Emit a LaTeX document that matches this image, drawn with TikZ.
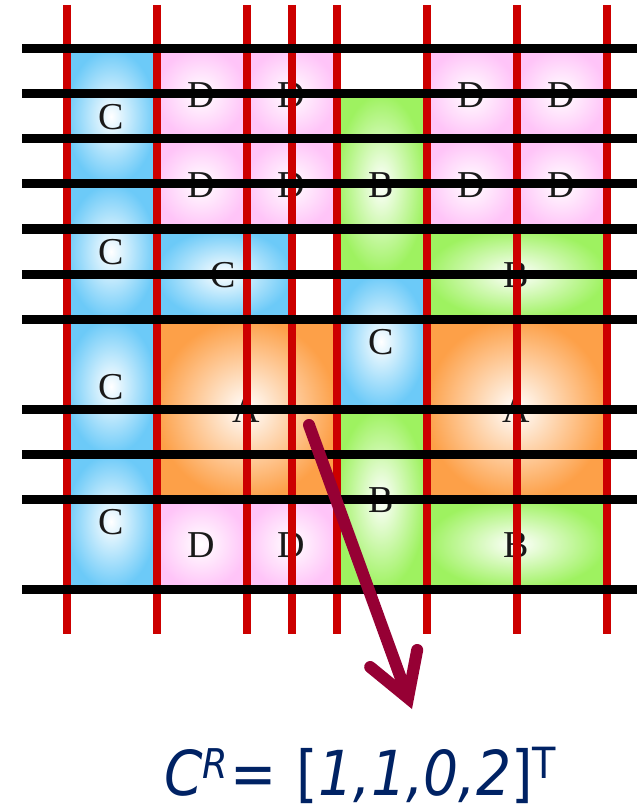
\documentclass[tikz,border=0pt]{standalone}
\usepackage{fontspec}
\setmainfont{Liberation Serif}
\newfontfamily\formfont[FakeStretch=0.89]{DejaVu Sans}
\usepackage{tikz}
\usetikzlibrary{arrows.meta}

\definecolor{cblue}{RGB}{108,202,248}
\definecolor{cpink}{RGB}{255,196,248}
\definecolor{cgreen}{RGB}{158,242,96}
\definecolor{corange}{RGB}{253,160,72}
\definecolor{gridred}{RGB}{204,0,0}
\definecolor{arrowred}{RGB}{150,0,52}
\definecolor{navy}{RGB}{0,34,100}

\tikzset{
  blocklabel/.style={font=\fontsize{38}{38}\selectfont, text=black!90},
  redline/.style={gridred, line width=8pt},
  blackline/.style={black, line width=9pt},
}

\begin{document}
\begin{tikzpicture}[x=1pt, y=-1pt]
      \useasboundingbox (0,0) rectangle (639,810);

      % 1. 畫出各個區塊（漸層填色）
      \foreach \xa/\ya/\xb/\yb/\col/\lab in {
          66/49/156/184/cblue/C, 66/184/156/319/cblue/C,
          66/319/156/454/cblue/C, 66/454/156/589/cblue/C,
          156/49/246/139/cpink/D, 246/49/336/139/cpink/D,
          156/139/246/229/cpink/D, 246/139/336/229/cpink/D,
          426/49/516/139/cpink/D, 516/49/606/139/cpink/D,
          426/139/516/229/cpink/D, 516/139/606/229/cpink/D,
          336/94/426/274/cgreen/B, 426/229/606/319/cgreen/B,
          156/229/291/319/cblue/C, 336/274/426/409/cblue/C,
          156/319/336/499/corange/A, 426/319/606/499/corange/A,
          336/409/426/589/cgreen/B, 426/499/606/589/cgreen/B,
          156/499/246/589/cpink/D, 246/499/336/589/cpink/D}
      {
        \shade[inner color=white, outer color=\col] (\xa,\ya) rectangle (\xb,\yb);
        \node[blocklabel] (lab-\xa-\ya) at ({(\xa+\xb)/2},{(\ya+\yb)/2+1}) {\lab};
      }

      % 2. 紅色直線
      \foreach \x in {66.5,156.5,246.5,291.5,336.5,426.5,516.5,606.5}
        \draw[redline] (\x,5) -- (\x,634);

      % 3. 黑色橫線
      \foreach \y in {49,94,139,184,229,274,319,409,454,499,589}
        \draw[blackline] (22,\y) -- (637,\y);

      % 4. 箭頭與 C^R
      \coordinate (arrow_s) at (309,425);
      \coordinate (arrow_t) at (412,709);
      \draw[arrowred, line width=12pt, line cap=round,
            -{Straight Barb[length=42pt, width=50pt, line cap=round, line join=miter]}]
            (arrow_s) -- (arrow_t);

      \node[anchor=base west, inner sep=0pt, text=navy,
            font=\formfont\fontsize{62}{62}\selectfont] (cr) at (164,795)
        {\textit{C}\raisebox{17pt}{\fontsize{41}{41}\selectfont\textit{R}}\kern2pt= \kern3pt[\textit{1,1,0,2}]\raisebox{17pt}{\fontsize{43}{43}\selectfont T}};
\end{tikzpicture}
\end{document}
